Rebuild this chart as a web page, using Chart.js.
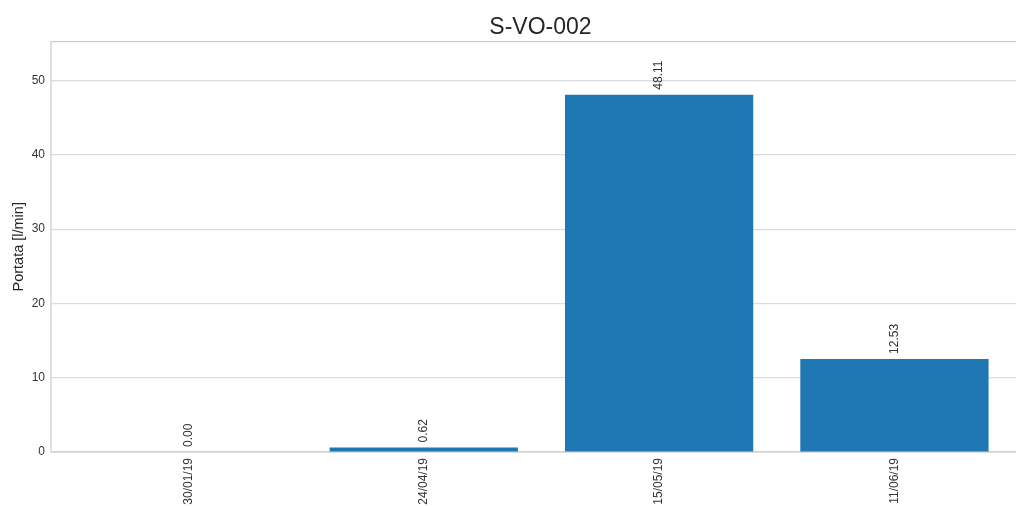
<!DOCTYPE html>
<html>
<head>
<meta charset="utf-8">
<script src="https://cdn.jsdelivr.net/npm/chart.js@4.4.1/dist/chart.umd.min.js"></script>
<style>
  html, body { margin: 0; padding: 0; background: #fff; overflow: hidden; }
  #wrap { width: 1040px; height: 506px; position: relative; }
</style>
</head>
<body>
<div id="wrap"><canvas id="barChart"></canvas></div>
<script>
// --- dati ---
const dates = ['30/01/19', '24/04/19', '15/05/19', '11/06/19'];
const portata = [0.00, 0.62, 48.11, 12.53];
const yTicks = [0, 10, 20, 30, 40, 50];

const FONT = "'Liberation Sans', Arial, sans-serif";
const GRID = '#dcdcdc';

// cornice del grafico (stile seaborn whitegrid)
const framePlugin = {
    id: 'frame',
    beforeDatasetsDraw(chart) {
        const a = chart.chartArea, ctx = chart.ctx;
        ctx.save();
        ctx.strokeStyle = '#cccccc';
        ctx.lineWidth = 1.2;
        ctx.strokeRect(a.left, a.top, a.right - a.left, a.bottom - a.top);
        ctx.restore();
    }
};

// etichette con il valore sopra le barre, ruotate di 90°
const valueLabels = {
    id: 'valueLabels',
    afterDatasetsDraw(chart) {
        const ctx = chart.ctx;
        const meta = chart.getDatasetMeta(0);
        ctx.save();
        ctx.font = '12px ' + FONT;
        ctx.fillStyle = '#333';
        ctx.textAlign = 'left';
        ctx.textBaseline = 'middle';
        meta.data.forEach(function (bar, i) {
            ctx.save();
            ctx.translate(bar.x, bar.y - 5);
            ctx.rotate(-Math.PI / 2);
            ctx.fillText(portata[i].toFixed(2), 0, 0);
            ctx.restore();
        });
        ctx.restore();
    }
};

const ctx = document.getElementById('barChart').getContext('2d');
window.barChart = new Chart(ctx, {
    type: 'bar',
    data: {
        datasets: [{
            label: 'Portata',
            data: dates.map((d, i) => ({ x: i, y: portata[i] })),
            backgroundColor: '#1f77b4',
            borderWidth: 0,
            barPercentage: 0.8,
            categoryPercentage: 1.0
        }]
    },
    options: {
        responsive: true,
        maintainAspectRatio: false,
        animation: false,
        layout: { padding: { left: 0, right: 10, top: 0, bottom: 0 } },
        plugins: {
            legend: { display: false },
            tooltip: { enabled: false },
            title: {
                display: true,
                text: 'S-VO-002',
                fullSize: false,
                color: '#262626',
                font: { size: 23, family: FONT, weight: 'normal' },
                padding: { top: 14, bottom: 0 }
            }
        },
        scales: {
            x: {
                type: 'linear',
                offset: false,
                min: -0.584,
                max: 3.576,
                grid: { display: false, drawTicks: false },
                border: { display: false },
                afterBuildTicks: function (scale) {
                    scale.ticks = dates.map((d, i) => ({ value: i }));
                },
                afterFit: function (scale) { scale.height = 54; },
                ticks: {
                    autoSkip: false,
                    minRotation: 90,
                    maxRotation: 90,
                    padding: 6,
                    color: '#333',
                    font: { size: 12, family: FONT },
                    callback: function (value) { return dates[value]; }
                }
            },
            y: {
                min: 0,
                max: 55.25,
                afterBuildTicks: function (scale) {
                    scale.ticks = yTicks.map(v => ({ value: v }));
                },
                afterFit: function (scale) { scale.width = 51; },
                grid: { color: GRID, lineWidth: 1.2, drawTicks: false },
                border: { display: false },
                ticks: {
                    padding: 6,
                    color: '#333',
                    font: { size: 12, family: FONT }
                },
                title: {
                    display: true,
                    text: 'Portata [l/min]',
                    color: '#262626',
                    font: { size: 14.5, family: FONT },
                    padding: { top: 10, bottom: 0 }
                }
            }
        }
    },
    plugins: [framePlugin, valueLabels]
});
</script>
</body>
</html>
